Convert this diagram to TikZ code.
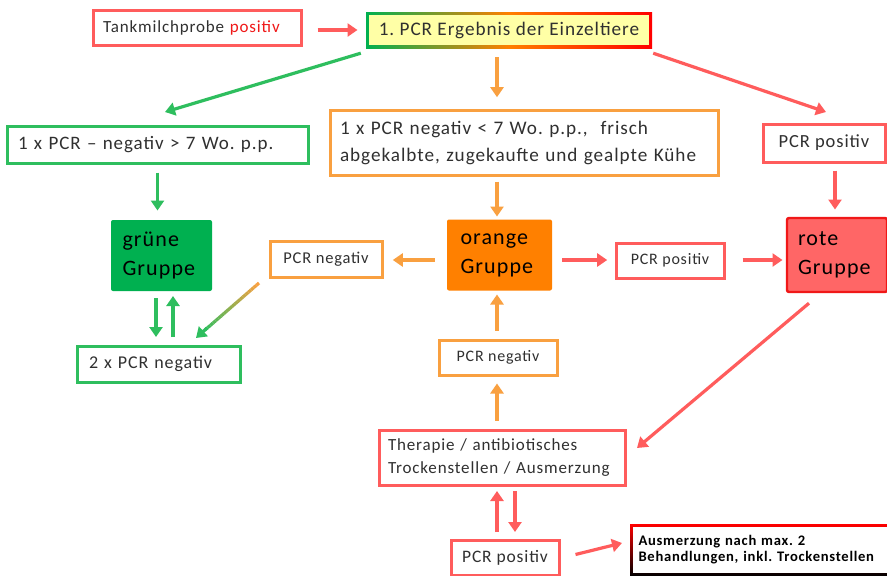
\documentclass[tikz,border=0pt]{standalone}
\usepackage{fontspec}
\setmainfont{Carlito}[LetterSpace=5]
\usetikzlibrary{arrows.meta,calc}
\definecolor{txt}{HTML}{303030}
\definecolor{gr}{HTML}{2EBE5E}
\definecolor{grf}{HTML}{00B050}
\definecolor{or}{HTML}{F9A040}
\definecolor{orf}{HTML}{FF8000}
\definecolor{rd}{HTML}{FF5C5C}
\definecolor{rdf}{HTML}{FF6666}
\definecolor{rdd}{HTML}{F01818}
\definecolor{yel}{HTML}{FFFFA6}
\newcommand{\fsz}[2]{\fontsize{#1pt}{#2pt}\selectfont}
\tikzset{
  box/.style={draw, line width=3pt, fill=white, inner sep=0pt, text=txt, font=\fsz{16.5}{20}},
  gbox/.style={box, draw=gr},
  obox/.style={box, draw=or},
  rbox/.style={box, draw=rd},
  grp/.style={inner sep=0pt, rounded corners=2pt, text=black, font=\fsz{22}{29}, align=left, text width=78pt},
  arr/.style={line width=3.2pt, -{Triangle[length=10pt,width=13pt]}},
  garr/.style={arr, draw=gr},
  oarr/.style={arr, draw=or},
  rarr/.style={arr, draw=rd},
}
\begin{document}
\frenchspacing
\begin{tikzpicture}[x=1pt,y=-1pt]
\useasboundingbox (0,0) rectangle (887,576);
\fill[white] (0,0) rectangle (887,576);

% top boxes
\node[rbox, minimum width=208pt, minimum height=35pt, text width=188pt, align=left, font=\fsz{17}{20}] (tank) at (197,28) {Tankmilchprobe \textcolor{rdd}{positiv}};
\shade[left color=grf, right color=red, middle color=orange] (366,12) rectangle (652,48);
\node[fill=yel, minimum width=280pt, minimum height=30pt, inner sep=0pt, text=txt, font=\fsz{19.2}{22}] (erg) at (509,30) {1. PCR Ergebnis der Einzeltiere};

% second row
\node[gbox, minimum width=301pt, minimum height=37pt, font=\fsz{19}{22}, text width=279pt, align=left] (neg7) at (157.5,144.5) {1 x PCR -- negativ > 7 Wo. p.p.};
\node[obox, minimum width=388pt, minimum height=65pt, font=\fsz{19.2}{27}, text width=368pt, align=left] (ob) at (524,142.5) {1 x PCR negativ < 7 Wo. p.p., \ frisch\\abgekalbte, zugekaufte und gealpte Kühe};
\node[rbox, minimum width=122pt, minimum height=38pt, font=\fsz{18.5}{22}] (posr) at (824,143) {PCR positiv};

% groups
\node[grp, fill=grf, minimum width=101pt, minimum height=71pt] (gruen) at (161.5,255.5) {grüne\\Gruppe};
\node[grp, fill=orf, minimum width=105pt, minimum height=71pt] (orng) at (499.5,255) {orange\\Gruppe};
\node[grp, fill=rdf, draw=rdd, line width=2.4pt, minimum width=100pt, minimum height=74pt] (rote) at (837,255) {rote\\Gruppe};

\node[obox, minimum width=112pt, minimum height=36pt] (negl) at (326,259) {PCR negativ};
\node[rbox, minimum width=108pt, minimum height=35pt, font=\fsz{16}{20}] (posm) at (670,260.5) {PCR positiv};
\node[gbox, minimum width=163pt, minimum height=36pt, font=\fsz{18}{22}, text width=139pt, align=left] (neg2) at (158.5,364) {2 x PCR negativ};
\node[obox, minimum width=118pt, minimum height=35pt, font=\fsz{16}{20}] (negm) at (498,357.5) {PCR negativ};
\node[rbox, minimum width=246pt, minimum height=55pt, font=\fsz{17}{23}, text width=228pt, align=left] (ther) at (502,457.5) {Therapie / antibiotisches\\Trockenstellen / Ausmerzung};
\node[rbox, minimum width=108pt, minimum height=35pt, font=\fsz{17.5}{20}] (posb) at (505,557.5) {PCR positiv};

\shade[top color=red, bottom color=black] (630,524) rectangle (892,576);
\node[fill=white, minimum width=256pt, minimum height=46pt, inner sep=0pt, text=black, font=\bfseries\fsz{14.6}{16}, text width=245pt, align=left] (ausm) at (761,549.5) {Ausmerzung nach max. 2\\Behandlungen, inkl. Trockenstellen};

% arrows
\draw[rarr] (tank.east) ++(15,2) -- ++(40,0);
\draw[garr] (erg.south west) ++(-8,8) -- (165,112);
\draw[oarr] (erg.south) ++(-12,12) -- ++(0,40);
\draw[rarr] (erg.south east) ++(4,8) -- (826,112);
\draw[garr] (neg7.south) ++(0,8) -- ++(0,38);
\draw[oarr] (ob.south) ++(-27,5) -- ++(0,35);
\draw[rarr] (posr.south) ++(11,7) -- ++(0,39);
\draw[oarr] (orng.west) ++(-12,5) -- ++(-42,0);
\draw[rarr] (orng.east) ++(10,5) -- ++(45,0);
\draw[rarr] (posm.east) ++(17,-0.5) -- ++(40,0);
% gradient arrow
\foreach \i in {0,...,19}{
  \pgfmathsetmacro{\p}{100-\i*5}
  \draw[line width=3.2pt, color=or!\p!gr] ($(259,283)!\i/20!(205,330)$) -- ($(259,283)!{(\i+1)/20}!(205,330)$);
}
\draw[garr] (207,328) -- (196,338);
\draw[garr] (156,298) -- (156,337);
\draw[garr] (173,337) -- (173,296);
\draw[oarr] (negm.north) ++(-1,-8) -- ++(0,-36);
\draw[oarr] (ther.north) ++(-5,-8) -- ++(0,-37);
\draw[rarr] (rote.south) ++(-28,10) -- (637,448);
\draw[rarr] (497,532) -- (497,491);
\draw[rarr] (515,491) -- (515,532);
\draw[rarr] (posb.east) ++(15,-3) -- (622,543);
\end{tikzpicture}
\end{document}
